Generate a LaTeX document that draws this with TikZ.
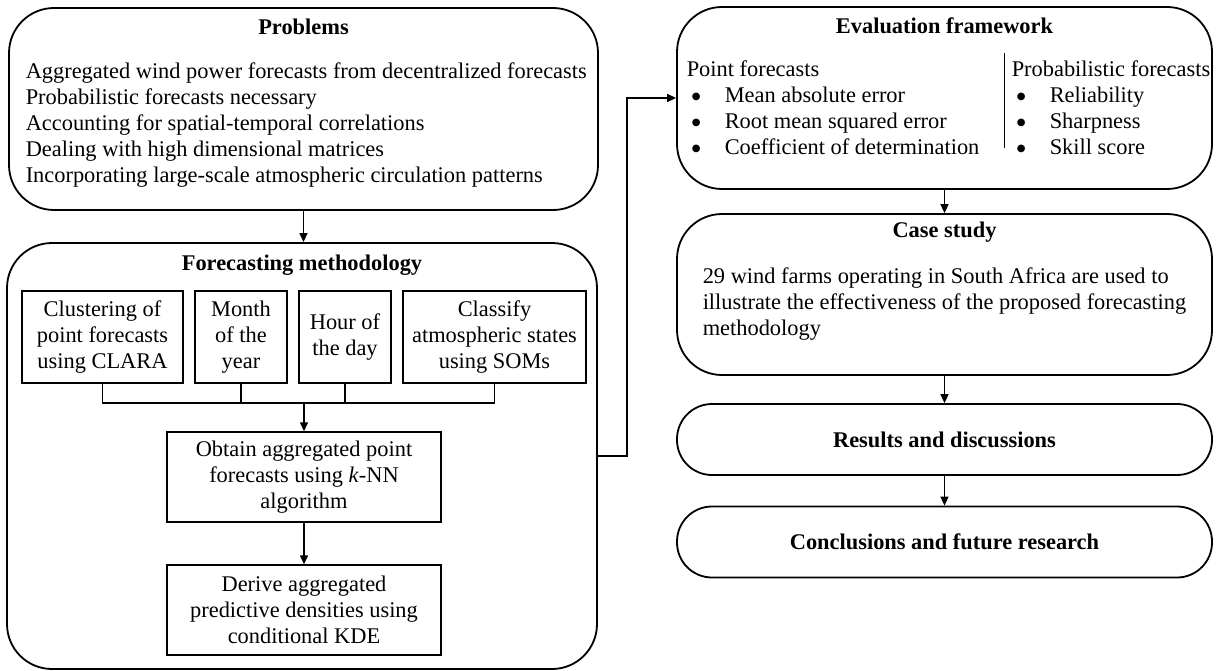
\documentclass[tikz,border=0pt]{standalone}
\usepackage{fontspec}
\setmainfont{Liberation Serif}
\newfontfamily\symfont{DejaVu Sans}
\usepackage{tikz}
\usetikzlibrary{arrows.meta,shapes}

\newcommand{\itemdot}{\makebox[38pt][l]{\hspace{5pt}\raisebox{3pt}{\symfont\fontsize{10}{26}\selectfont ●}}}

\begin{document}
\begin{tikzpicture}[x=1pt,y=-1pt,>={Triangle[length=9pt,width=8pt]},line width=1.5pt,
    font=\fontsize{22.4}{26}\selectfont]
    % outer stages are rounded, the method steps are plain boxes
    \tikzstyle{stage-box}=[rectangle,draw=black,line width=1.8pt,rounded corners=45pt,minimum width=535pt]
    \tikzstyle{round-box}=[rectangle,draw=black,line width=1.8pt,rounded corners=35pt,minimum width=535pt,
    minimum height=71pt,font=\fontsize{22.4}{26}\selectfont\bfseries]
    \tikzstyle{step-box}=[rectangle,draw=black,align=center,minimum height=92pt,inner sep=2pt]
    \tikzstyle{title-text}=[font=\fontsize{22.4}{26}\selectfont\bfseries]
    \tikzstyle{body-text}=[align=left,inner sep=0pt,anchor=west]

    \useasboundingbox (0,0) rectangle (1217,671);

    \node [stage-box,minimum width=589pt,minimum height=202pt] (problems) at (303.5,109) {};
    \node [title-text] (problems-title) at (303.5,27) {Problems};
    \node [body-text] (problems-list) at (25,125) {Aggregated wind power forecasts from decentralized forecasts\\
    Probabilistic forecasts necessary\\Accounting for spatial-temporal correlations\\
    Dealing with high dimensional matrices\\Incorporating large-scale atmospheric circulation patterns};

    \node [stage-box,minimum width=590pt,minimum height=426pt] (method) at (302,456) {};
    \node [title-text] (method-title) at (302,265) {Forecasting methodology};
    \node [step-box,minimum width=161pt] (clara) at (102.5,337) {Clustering of\\point forecasts\\using CLARA};
    \node [step-box,minimum width=92pt]  (month) at (241,337) {Month\\of the\\year};
    \node [step-box,minimum width=92pt]  (hour) at (345,337) {Hour of\\the day};
    \node [step-box,minimum width=183pt] (som) at (494.5,337) {Classify\\atmospheric states\\using SOMs};
    \coordinate (join) at (304,403);
    \node [step-box,minimum width=274pt,minimum height=90pt] (knn) at (304,477) {Obtain aggregated point\\forecasts using \textit{k}-NN\\algorithm};
    \node [step-box,minimum width=274pt,minimum height=90pt] (kde) at (304,610) {Derive aggregated\\predictive densities using\\conditional KDE};

    \node [stage-box,minimum height=182pt] (eval) at (944.5,98) {};
    \node [title-text] (eval-title) at (944.5,26) {Evaluation framework};
    \node [body-text] (point-list) at (686,108) {Point forecasts\\\itemdot Mean absolute error\\
    \itemdot Root mean squared error\\\itemdot Coefficient of determination};
    \node [body-text] (prob-list) at (1011,108) {Probabilistic forecasts\\\itemdot Reliability\\
    \itemdot Sharpness\\\itemdot Skill score};
    \draw [line width=0.8pt] (1004,53) -- (1004,148);

    \node [stage-box,minimum height=161pt] (case) at (944.5,294.5) {};
    \node [title-text] (case-title) at (944.5,232) {Case study};
    \node [body-text] (case-text) at (702,304) {29 wind farms operating in South Africa are used to\\
    illustrate the effectiveness of the proposed forecasting\\methodology};
    \node [round-box] (results) at (944.5,439.5) {Results and discussions};
    \node [round-box] (concl) at (944.5,542) {Conclusions and future research};

    \draw [->] (problems.south) -- (problems.south |- method.north);
    \draw (clara.south) |- (join);
    \draw (som.south) |- (join);
    \draw (month.south) -- (month.south |- join);
    \draw (hour.south) -- (hour.south |- join);
    \draw [->] (join) -- (knn);
    \draw [->] (knn) -- (kde);
    \draw [->] (method.east) -- ++(29,0) |- (eval.west);
    \draw [->] (eval) -- (case);
    \draw [->] (case) -- (results);
    \draw [->] (results) -- (concl);
\end{tikzpicture}
\end{document}
